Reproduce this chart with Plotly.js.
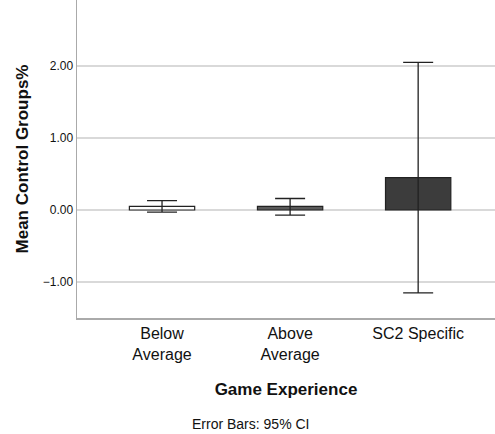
<!DOCTYPE html>
<html>
<head>
<meta charset="utf-8">
<script src="https://cdn.plot.ly/plotly-3.0.1.min.js"></script>
<style>html,body{margin:0;padding:0;background:#fff;}#chart{width:495px;height:434px;}</style>
</head>
<body>
<div id="chart"></div>
<script>
var categories = ["Below<br>Average", "Above<br>Average", "SC2 Specific"];
var means = [0.05, 0.05, 0.45];
var ciUpper = [0.13, 0.16, 2.05];
var ciLower = [-0.03, -0.07, -1.15];
var yTicks = [-1, 0, 1, 2];

var errPlus = means.map(function (m, i) { return ciUpper[i] - m; });
var errMinus = means.map(function (m, i) { return m - ciLower[i]; });

var trace = {
  type: "bar",
  x: categories,
  y: means,
  width: 0.51,
  marker: {
    color: ["#ffffff", "#5a5a5a", "#3c3c3c"],
    line: { color: "#222222", width: 1.2 }
  },
  error_y: {
    type: "data",
    symmetric: false,
    array: errPlus,
    arrayminus: errMinus,
    color: "#222222",
    thickness: 1.3,
    width: 15
  },
  hoverinfo: "none"
};

var layout = {
  width: 495,
  height: 434,
  margin: { l: 77, r: 0, t: 0, b: 116 },
  paper_bgcolor: "#ffffff",
  plot_bgcolor: "#ffffff",
  showlegend: false,
  font: { family: "Liberation Sans, Arial, sans-serif", color: "#111111" },
  xaxis: {
    type: "category",
    range: [-0.664, 2.6],
    showline: true,
    linecolor: "#aaaaaa",
    linewidth: 1.5,
    showgrid: false,
    ticks: "",
    tickfont: { size: 16, color: "#111111" },
    title: { text: "<b>Game Experience</b>", font: { size: 17, color: "#111111" }, standoff: 21 },
    automargin: false,
    fixedrange: true
  },
  yaxis: {
    range: [-1.5, 2.917],
    tickvals: yTicks,
    tickformat: ".2f",
    showline: true,
    linecolor: "#aaaaaa",
    linewidth: 1.5,
    showgrid: true,
    gridcolor: "#d9d9d9",
    gridwidth: 1.3,
    zeroline: true,
    zerolinecolor: "#d9d9d9",
    zerolinewidth: 1.3,
    ticks: "",
    tickfont: { size: 12, color: "#111111" },
    title: { text: "<b>Mean Control Groups%</b>", font: { size: 17, color: "#111111" }, standoff: 10 },
    automargin: false,
    fixedrange: true
  },
  annotations: [{
    text: "Error Bars: 95% CI",
    xref: "paper", yref: "paper",
    x: 0.416, y: -0.333,
    xanchor: "center", yanchor: "middle",
    showarrow: false,
    font: { size: 14, color: "#111111" }
  }]
};

Plotly.newPlot("chart", [trace], layout, { displayModeBar: false, staticPlot: true });
</script>
</body>
</html>
